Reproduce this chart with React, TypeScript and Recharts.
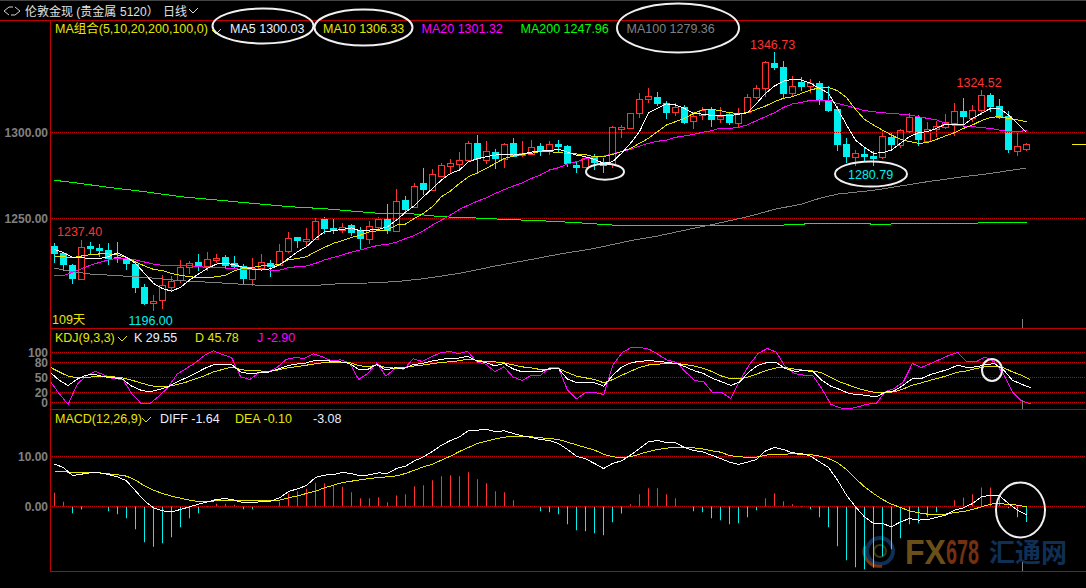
import React from "react";
import { ComposedChart, Bar, Line, XAxis, YAxis, ReferenceLine, Cell } from "recharts";

const opens = [1234.0,1229.7,1223.0,1214.6,1234.0,1232.8,1231.7,1227.8,1226.8,1223.5,1210.0,1200.7,1202.6,1210.4,1214.2,1222.0,1224.7,1222.4,1225.9,1227.6,1223.9,1222.6,1214.6,1221.2,1223.9,1222.8,1231.3,1239.2,1237.1,1237.9,1249.7,1244.3,1243.3,1246.0,1242.9,1238.3,1244.9,1249.5,1242.9,1260.8,1256.9,1270.6,1266.6,1274.9,1280.3,1281.9,1284.2,1293.7,1284.2,1288.5,1284.8,1293.7,1287.1,1287.5,1292.1,1289.6,1293.3,1292.1,1281.1,1279.7,1285.9,1283.0,1281.7,1302.2,1302.8,1311.5,1319.7,1320.4,1316.9,1311.7,1314.6,1306.5,1310.2,1313.5,1307.6,1310.6,1305.7,1311.9,1320.8,1325.7,1340.4,1338.1,1323.1,1329.2,1327.2,1328.8,1318.9,1313.6,1293.3,1285.9,1287.5,1286.5,1285.7,1297.4,1292.7,1301.0,1309.2,1295.2,1301.8,1303.0,1305.5,1312.5,1308.2,1313.1,1321.8,1315.4,1309.6,1289.4,1290.6];
const closes = [1229.4,1223.0,1214.6,1233.2,1232.1,1231.3,1226.6,1226.2,1223.5,1209.8,1200.3,1202.2,1211.1,1213.5,1221.6,1223.9,1221.6,1226.2,1227.0,1222.6,1221.6,1215.0,1221.2,1224.5,1221.6,1230.9,1238.5,1237.1,1237.9,1248.4,1244.1,1242.7,1245.3,1241.8,1238.1,1245.8,1249.5,1242.9,1260.0,1254.9,1268.7,1266.6,1275.7,1280.9,1282.1,1283.8,1293.7,1284.4,1289.0,1284.6,1293.1,1285.9,1287.9,1291.4,1288.5,1293.1,1291.4,1281.7,1279.5,1285.0,1282.1,1280.7,1303.0,1303.0,1311.1,1319.3,1321.0,1316.6,1311.5,1314.6,1305.7,1309.6,1313.1,1307.5,1309.8,1305.5,1311.5,1320.4,1325.7,1340.8,1337.3,1322.4,1327.2,1326.4,1328.6,1318.9,1312.5,1292.7,1285.7,1287.9,1285.7,1284.4,1297.8,1292.7,1301.3,1308.8,1295.6,1301.8,1303.6,1306.3,1312.3,1309.0,1312.9,1321.6,1314.6,1308.6,1289.8,1291.9,1293.1];
const highs = [1235.6,1230.1,1223.5,1237.4,1236.5,1235.0,1235.6,1236.1,1227.8,1224.9,1211.9,1205.5,1217.0,1216.6,1225.9,1225.3,1229.4,1230.5,1229.4,1228.8,1228.2,1223.3,1227.0,1229.4,1225.9,1235.2,1242.1,1239.2,1244.5,1250.1,1250.7,1249.9,1247.2,1246.8,1245.2,1248.7,1251.0,1258.4,1266.9,1263.1,1270.8,1279.4,1278.8,1282.1,1284.4,1288.6,1295.2,1298.5,1295.0,1290.2,1293.7,1296.8,1295.0,1295.6,1293.7,1295.0,1295.6,1292.7,1283.0,1285.9,1287.5,1285.0,1303.8,1304.4,1311.5,1322.8,1325.7,1323.5,1318.5,1316.9,1316.0,1312.1,1315.0,1314.6,1314.6,1311.7,1314.4,1322.4,1327.6,1341.6,1346.73,1341.6,1332.8,1332.1,1330.9,1329.7,1327.0,1315.4,1296.8,1289.6,1291.0,1289.4,1300.9,1299.9,1302.0,1311.5,1310.0,1306.3,1306.7,1310.6,1316.9,1320.0,1315.8,1324.52,1323.1,1319.5,1312.5,1299.9,1294.1];
const lows = [1224.3,1219.7,1211.9,1214.6,1229.4,1227.4,1223.0,1223.9,1220.0,1206.5,1199.7,1196.0,1197.2,1208.0,1212.7,1217.7,1219.7,1219.7,1223.9,1220.4,1221.0,1211.9,1210.9,1220.8,1216.2,1222.4,1230.1,1232.6,1234.0,1237.5,1241.0,1240.8,1241.8,1239.8,1232.1,1235.2,1242.9,1241.0,1242.3,1253.0,1256.5,1263.6,1266.6,1273.9,1276.3,1277.8,1284.0,1275.9,1281.5,1278.6,1279.5,1285.5,1285.9,1286.9,1286.3,1287.1,1288.3,1280.1,1276.4,1279.5,1278.2,1276.4,1279.2,1297.0,1302.2,1308.2,1316.9,1315.4,1308.0,1309.8,1304.9,1302.0,1307.3,1303.0,1305.7,1304.4,1302.4,1311.1,1319.3,1320.8,1336.3,1319.7,1320.8,1324.3,1323.1,1316.0,1312.1,1289.4,1282.5,1280.7,1283.2,1280.79,1284.6,1290.6,1291.2,1299.5,1292.3,1293.7,1297.4,1301.8,1298.2,1303.0,1305.9,1310.2,1311.9,1307.6,1287.9,1286.5,1289.4];

const ma5 = [1232.1,1230.1,1227.4,1227.2,1226.8,1226.8,1227.8,1230.1,1227.4,1223.9,1218.1,1212.3,1209.2,1207.8,1210.0,1214.2,1217.7,1221.0,1223.5,1224.1,1223.0,1221.6,1220.6,1220.0,1220.8,1223.0,1226.8,1230.7,1233.6,1238.4,1242.3,1242.9,1243.7,1244.5,1242.7,1243.3,1243.7,1245.2,1249.1,1253.6,1257.5,1262.7,1267.5,1272.4,1276.2,1278.2,1283.0,1284.8,1285.9,1286.9,1287.3,1286.9,1287.5,1288.6,1289.2,1289.4,1290.2,1288.6,1286.9,1285.9,1284.4,1282.1,1283.0,1287.9,1293.7,1300.5,1311.5,1314.0,1316.6,1316.0,1314.0,1311.1,1310.7,1310.0,1309.8,1309.8,1310.6,1311.5,1316.9,1322.8,1327.0,1329.9,1330.9,1330.5,1328.6,1325.7,1322.8,1314.0,1304.4,1295.6,1291.4,1287.9,1288.3,1289.8,1293.7,1297.6,1299.9,1300.5,1302.4,1304.9,1304.9,1304.4,1308.2,1311.1,1314.0,1314.0,1310.2,1305.3,1300.03];
const ma10 = [1228.2,1227.8,1227.2,1228.2,1229.0,1229.4,1229.4,1228.8,1227.4,1224.9,1222.4,1220.4,1219.7,1218.1,1216.9,1216.2,1215.6,1215.4,1216.2,1216.9,1219.7,1221.0,1221.6,1222.4,1222.6,1223.3,1225.9,1226.8,1227.8,1230.7,1233.2,1235.6,1237.1,1239.0,1240.4,1242.3,1242.9,1243.3,1246.2,1246.8,1250.1,1253.0,1256.9,1262.7,1266.0,1270.4,1274.3,1276.6,1279.2,1282.1,1285.0,1286.3,1287.3,1287.9,1288.9,1288.9,1288.3,1287.9,1287.5,1287.1,1285.9,1285.9,1287.3,1288.9,1290.8,1293.7,1296.6,1300.5,1304.4,1306.3,1308.2,1311.1,1313.1,1313.5,1312.7,1311.5,1311.1,1311.5,1313.5,1315.4,1317.9,1319.9,1320.8,1322.8,1324.7,1326.0,1326.2,1324.3,1320.4,1313.5,1307.6,1304.4,1301.4,1298.5,1296.0,1294.7,1293.7,1294.1,1296.0,1298.0,1299.9,1302.4,1304.4,1306.9,1308.8,1309.2,1308.2,1307.3,1306.33];
const ma20 = [1216.6,1216.9,1218.7,1220.8,1222.8,1224.5,1225.9,1227.0,1226.8,1225.9,1224.7,1223.5,1222.8,1222.6,1222.6,1222.6,1222.0,1221.6,1221.4,1221.2,1220.8,1220.4,1220.4,1220.4,1220.0,1219.9,1221.4,1222.0,1222.4,1223.9,1225.9,1227.4,1228.8,1230.5,1231.7,1233.2,1234.4,1235.0,1236.3,1238.3,1240.2,1242.9,1246.2,1249.1,1252.0,1255.3,1257.8,1260.1,1262.1,1264.6,1266.9,1268.9,1270.8,1273.3,1275.3,1278.2,1279.5,1281.7,1283.0,1284.8,1285.6,1286.3,1287.5,1288.9,1290.2,1292.1,1293.7,1294.9,1295.6,1297.2,1298.0,1298.9,1300.1,1301.0,1302.6,1302.4,1303.0,1304.5,1306.9,1309.2,1311.5,1314.6,1316.6,1317.5,1318.7,1318.9,1318.7,1316.9,1315.6,1314.2,1312.7,1312.1,1311.5,1311.1,1310.7,1310.2,1309.2,1308.2,1307.3,1305.3,1304.0,1303.8,1303.4,1302.8,1302.4,1301.4,1300.5,1300.3,1301.32];
const ma100Days = [0,2,4,6,10,14,16,18,21,23,29,31,34,38,41,45,49,53,56,60,64,67,71,73,77,80,83,85,87,91,94,97,101,104,106,108];
const ma100 = [1221.2,1219.1,1217.7,1217.1,1215.8,1213.8,1213.3,1212.7,1211.7,1211.1,1211.1,1211.9,1212.3,1213.3,1215.0,1218.1,1222.4,1226.2,1229.2,1232.6,1237.1,1239.8,1244.3,1246.4,1251.0,1255.3,1258.4,1261.7,1264.2,1266.4,1268.9,1271.4,1274.3,1276.2,1277.8,1279.36];
const ma200Days = [0,2,6,10,14,18,22,26,30,34,36,40,43,46,50,54,58,62,66,74,80,81,83,84,90,91,95,103,104,108];
const ma200 = [1272.2,1271.0,1268.1,1265.6,1262.7,1260.8,1258.8,1256.9,1255.7,1253.9,1253.0,1252.6,1251.0,1250.5,1249.5,1248.7,1247.6,1246.2,1245.8,1245.8,1246.0,1246.2,1246.6,1247.2,1247.2,1246.6,1247.0,1247.4,1247.8,1247.96];
const lastCloseDays = [113,114,115];
const lastClose = 1293.1;

const kValues = [60.7,44.7,34,46.7,54.7,56,51.3,49.3,46.7,32.7,24.7,21.3,26,31.3,41.3,49.3,58,68,75.3,76,76,61.3,57.3,59.3,60,66,72.7,76.7,78,83.3,84,82.7,81.3,78,66,66,76,64.7,69.3,68,76,78,82.7,86,88.7,88.7,92.7,83.3,80,73.3,78,67.3,61.3,61.3,61.3,68,68,46.7,40,39.3,39.3,32.7,54.7,71.3,79.3,82.7,83.3,82.7,80,78,71.3,63.3,58,48,41.3,34,41.3,61.3,74.7,80,80,68,62.7,63.3,62.7,44.7,32.7,26,18,16,14,11.3,20.7,23.3,34.7,48,48,56,61.3,66.7,74.7,70,71.3,75.3,78,66,44.7,36.7,29.55];
const dValues = [70.7,61.3,52.7,49.3,50,52,51.3,51.3,49.3,44.7,39.3,34,31.3,32,36,40.7,47.3,53.3,61.3,66,70.7,66,63.3,63.3,62,64.7,68.7,71.3,74,76.7,79.3,80,80.7,80,74,71.3,75.3,70,68.7,70,72.7,74.7,77.3,80,81.3,83.3,86.7,84.7,82,81.3,79.3,75.3,71.3,69.3,66,66.7,68,60,52.7,49.3,46,39.3,46,54.7,62.7,70.7,75.3,76.7,78,78,76,72.7,68,61.3,52.7,47.3,47.3,51.3,58,64.7,69.3,70,66.7,64.7,63.3,59.3,50,41.3,34.7,28,23.3,20,20,21.3,27.3,34.7,39.3,44.7,49.3,54.7,60.7,63.3,68,71.3,72.7,70,61.3,54.7,45.78];
const jValues = [42.7,18,-4,36.7,53.3,62,54.7,47.3,46.7,18,-1.3,-2,12.7,30,56.7,68,79.3,94,103.3,96,90,51.3,46,59.3,60.7,70,86,90,88,97.3,91.3,83.3,85.3,79.3,46,58,79.3,52.7,68,66.7,87.3,82,91.3,99.3,102,98,102,81.3,76.7,62,71.3,51.3,44,54,54,69.3,69.3,24.7,7.3,20,20,16,74.7,99.3,110,110,106.7,96,84.7,80,61.3,44,41.3,20,20,8,44.7,74.7,98,108,100.7,71.3,58,54.7,54.7,28,-3.3,-10.7,-12.7,-8.7,-3.3,-2,21.3,28,41.3,78,70,78,86,94,100,81.3,81.3,91.3,81.3,58,21.3,3.3,-2.9];

const diffValues = [8.47,7.8,6.2,6.47,6.73,6.73,6.4,5.93,5.13,3.13,1.13,-0.27,-0.87,-1.07,-0.6,-0.07,0.47,0.93,1.4,1.6,1.27,0.73,0.73,1,1.07,1.73,3,3.53,4.2,5.8,6.27,6.4,6.8,6.6,6.13,6.33,6.73,6.6,7.6,8.07,9.13,9.93,11,12.27,13.2,13.93,15.2,15.27,15.4,15,15.13,14.6,14.13,13.8,13.4,13.2,12.6,11.4,10.07,9.53,8.6,7.6,8.6,9.13,10.27,11.6,12.93,13.2,12.8,12.73,11.8,11.2,10.93,10.27,9.6,8.87,8.4,8.87,9.4,11.13,11.8,11.4,10.73,10.6,10.07,8.93,7.8,5.27,2.27,-0.07,-2.07,-3.4,-3.4,-4.07,-3.07,-2.4,-2.73,-2.6,-2.2,-1.73,-0.73,-0.27,0.6,1.93,2.27,2.13,0.6,-0.73,-1.64];
const deaValues = [7,7,6.73,6.8,6.8,6.73,6.53,6.33,6.07,5.27,4.13,3.27,2.6,2.07,1.67,1.27,1,1,1.13,1.2,1.2,1.13,1.13,1.13,1.13,1.27,1.73,2.13,2.6,3.07,3.73,4.27,4.8,5.07,5.33,5.6,5.8,5.93,6.13,6.6,7.27,7.93,8.47,9.27,10.07,11,11.8,12.6,13.07,13.53,13.87,14.07,14.07,13.93,13.73,13.6,13.4,12.87,12.33,11.8,11.27,10.47,9.93,9.8,9.93,10.47,11,11.4,11.67,11.8,11.8,11.73,11.53,11.13,10.87,10.2,9.93,9.87,9.87,10.27,10.47,10.47,10.53,10.47,10.4,10.07,9.6,8.73,7.4,5.6,3.93,2.6,1.4,0.47,-0.2,-0.87,-1.27,-1.53,-1.6,-1.53,-1.2,-1,-0.6,-0.07,0.47,0.6,0.4,0.27,-0.1];
const macdHist = [2.73,0.93,-1.33,-0.6,-0.07,-0.07,-0.93,-1.53,-2.33,-4.53,-7.13,-8.07,-7.33,-6.13,-4.13,-2.33,-1.33,-0.13,0.53,0.53,0.33,-0.53,-0.53,0,0,0.93,2.6,3.07,3.53,4.73,4.67,4.27,3.93,2.87,1.67,1.67,1.87,0.87,2.2,2.47,4.07,4.27,5.27,6.07,6.27,6.07,6.87,5.47,4.67,3.07,2.87,1.27,0.07,-0.07,-0.93,-1.13,-1.53,-3.53,-4.73,-4.93,-5.33,-5.73,-3.13,-1.4,0.47,2.47,3.67,3.67,2.47,1.67,0,-0.93,-1.13,-2.33,-2.73,-3.53,-3.33,-2.13,-0.73,1.67,2.67,1.07,0.47,-0.13,-0.53,-2.13,-4.13,-7.93,-10.73,-12.13,-12.53,-12.27,-9.93,-8.53,-6.33,-3.53,-3.33,-2.13,-1.13,-0.07,1.27,1.8,2.47,3.8,3.8,1.93,-0.33,-2.13,-3.08];

const monthTickDays = [1, 23, 43, 65, 85, 106];
const monthLabels = ["2018/11", "2018/12", "2019/01", "2019/02", "2019/03", "2019/04"];
const priceTicks = [1300, 1250];
const kdjTicks = [100, 80, 50, 20, 0];
const macdTicks = [10, 0];
const DAY_SLOTS = 116;

const table = Array.from({ length: DAY_SLOTS }, (_, i) => {
  const has = i < opens.length;
  const p100 = ma100Days.indexOf(i);
  const p200 = ma200Days.indexOf(i);
  return {
    day: i,
    open: has ? opens[i] : null,
    close: has ? closes[i] : null,
    high: has ? highs[i] : null,
    low: has ? lows[i] : null,
    range: has ? [lows[i], highs[i]] : null,
    ma5: has ? ma5[i] : null,
    ma10: has ? ma10[i] : null,
    ma20: has ? ma20[i] : null,
    ma100: p100 >= 0 ? ma100[p100] : null,
    ma200: p200 >= 0 ? ma200[p200] : null,
    last: lastCloseDays.includes(i) ? lastClose : null,
    k: has ? kValues[i] : null,
    d: has ? dValues[i] : null,
    j: has ? jValues[i] : null,
    diff: has ? diffValues[i] : null,
    dea: has ? deaValues[i] : null,
    hist: has ? macdHist[i] : null,
  };
});

const RED = "#ff3232";
const CYAN = "#00f0f0";
const FRAME = "#c00000";
const GRID = "#cc0000";
const YELLOW = "#e6e600";
const MAGENTA = "#ff00ff";
const GREY = "#808080";
const SANS = '"Liberation Sans","Noto Sans CJK SC",sans-serif';
const tickStyle = { fill: GREY, fontSize: 12, fontWeight: 700, fontFamily: SANS };

const Candle = (p: any) => {
  const { x, y, width, height, payload } = p;
  if (payload.high == null) return null;
  const k = Math.abs(height) / (payload.high - payload.low);
  const py = (v: number) => Math.round(y + (payload.high - v) * k);
  const up = payload.close >= payload.open;
  const color = up ? RED : CYAN;
  const cx = x + width / 2;
  const top = py(Math.max(payload.open, payload.close));
  const bot = py(Math.min(payload.open, payload.close));
  return (
    <g shapeRendering="crispEdges">
      <line x1={cx} x2={cx} y1={py(payload.high)} y2={top} stroke={color} />
      <line x1={cx} x2={cx} y1={bot} y2={py(payload.low)} stroke={color} />
      {up ? (
        <rect x={cx - 3} y={top + 0.5} width={6} height={Math.max(bot - top, 1)} fill="#000" stroke={color} />
      ) : (
        <rect x={cx - 3.5} y={top} width={7} height={Math.max(bot - top, 1)} fill={color} />
      )}
    </g>
  );
};

const line = (key: string, color: string, connect = false) => (
  <Line
    key={key}
    dataKey={key}
    type="linear"
    stroke={color}
    strokeWidth={1}
    dot={false}
    activeDot={false}
    connectNulls={connect}
    isAnimationActive={false}
    shapeRendering="crispEdges"
  />
);

const grid = (ticks: number[]) =>
  ticks.map((t) => <ReferenceLine key={t} y={t} stroke={GRID} strokeDasharray="1 1" shapeRendering="crispEdges" />);

const MonthTick = (p: any) => (
  <text x={p.x - 1.5} y={584} fill={GREY} fontSize={13} fontFamily={SANS}>
    {monthLabels[monthTickDays.indexOf(p.payload.value)]}
  </text>
);

const Label = ({ x, y, c, children, size = 12.5 }: any) => (
  <text x={x} y={y} fill={c} fontSize={size} fontFamily={SANS}>
    {children}
  </text>
);

const Chev = ({ x, y, c = YELLOW }: any) => (
  <polyline points={`${x},${y} ${x + 4},${y + 4} ${x + 9},${y - 1}`} fill="none" stroke={c} strokeWidth={1} />
);

const WM = '"Liberation Sans Narrow","Liberation Sans",sans-serif';

export default function App() {
  const panel = (top: number, height: number): React.CSSProperties => ({ position: "absolute", left: 0, top, width: 1094, height });
  const margin = { top: 0, right: 0, bottom: 0, left: 0 };
  return (
    <div style={{ position: "absolute", left: 0, top: 0, width: 1086, height: 588, background: "#000", overflow: "hidden" }}>
      <svg width={1086} height={588} style={{ position: "absolute", left: 0, top: 0, pointerEvents: "none" }}>
        <circle cx={880} cy={551} r={13} fill="none" stroke="#0f2f55" strokeWidth={4} />
        <circle cx={880} cy={551} r={6} fill="none" stroke="#3a3a10" strokeWidth={2} />
        <path d="M865 546 A15 15 0 0 0 882 566" fill="none" stroke="#7a3510" strokeWidth={3} />
        <text x={905} y={564} fontSize={35} fontWeight={700} fontFamily={WM} fill="#6a5018" textLength={41} lengthAdjust="spacingAndGlyphs">FX</text>
        <text x={946} y={564} fontSize={35} fontWeight={700} fontFamily={WM} fill="#74300f" textLength={33} lengthAdjust="spacingAndGlyphs">678</text>
        <text x={989} y={562} fontSize={26} fontWeight={700} fontFamily={SANS} fill="#0f2f55">汇通网</text>
      </svg>

      <div style={panel(21, 307)}>
        <ComposedChart width={1094} height={307} data={table} margin={margin}>
          <XAxis dataKey="day" type="category" hide />
          <YAxis type="number" width={50} domain={[1186.337, 1364.826]} allowDataOverflow ticks={priceTicks} interval={0} tickFormatter={(v: number) => v.toFixed(2)} tick={tickStyle} axisLine={false} tickLine={false} tickSize={0} tickMargin={2} />
          {grid(priceTicks)}
          <Bar dataKey="range" barSize={7} shape={Candle} isAnimationActive={false} />
          {line("ma200", "#00ff00", true)}
          {line("ma100", GREY, true)}
          {line("ma20", MAGENTA)}
          {line("ma10", YELLOW)}
          {line("ma5", "#ffffff")}
          {line("last", "#f0f000")}
        </ComposedChart>
      </div>
      <div style={panel(329, 80)}>
        <ComposedChart width={1094} height={80} data={table} margin={margin}>
          <XAxis dataKey="day" type="category" hide />
          <YAxis type="number" width={50} domain={[-13, 147]} allowDataOverflow ticks={kdjTicks} interval={0} tick={tickStyle} axisLine={false} tickLine={false} tickSize={0} tickMargin={2} />
          {grid(kdjTicks)}
          {line("j", MAGENTA)}
          {line("d", YELLOW)}
          {line("k", "#ffffff")}
        </ComposedChart>
      </div>
      <div style={panel(410, 178)}>
        <ComposedChart width={1094} height={178} data={table} margin={margin}>
          <XAxis dataKey="day" type="category" height={17} ticks={monthTickDays} interval={0} tick={MonthTick} axisLine={false} tickLine={false} />
          <YAxis type="number" width={50} domain={[-12.9, 19.3]} allowDataOverflow ticks={macdTicks} interval={0} tickFormatter={(v: number) => v.toFixed(2)} tick={tickStyle} axisLine={false} tickLine={false} tickSize={0} tickMargin={2} />
          {grid(macdTicks)}
          <Bar dataKey="hist" barSize={1} isAnimationActive={false}>
            {table.map((r) => (
              <Cell key={r.day} fill={(r.hist ?? 0) >= 0 ? RED : CYAN} />
            ))}
          </Bar>
          {line("dea", YELLOW)}
          {line("diff", "#ffffff")}
        </ComposedChart>
      </div>

      <svg width={1086} height={588} style={{ position: "absolute", left: 0, top: 0, pointerEvents: "none" }}>
        <g shapeRendering="crispEdges" stroke={FRAME}>
          <line x1={0} x2={1086} y1={0.5} y2={0.5} stroke="#444" />
          <line x1={0} x2={1086} y1={20.5} y2={20.5} />
          <line x1={50.5} x2={50.5} y1={20} y2={572} />
          <line x1={50} x2={1086} y1={328.5} y2={328.5} />
          <line x1={50} x2={1086} y1={409.5} y2={409.5} />
          <line x1={50} x2={1086} y1={571.5} y2={571.5} />
          <line x1={1022.5} x2={1022.5} y1={319} y2={328} stroke={GREY} />
          <line x1={1022.5} x2={1022.5} y1={400} y2={409} stroke={GREY} />
          <line x1={1022.5} x2={1022.5} y1={562} y2={571} stroke={GREY} />
        </g>

        <text x={25} y={16} fill="#e0e0e0" fontSize={12} fontFamily={SANS}>伦敦金现 (贵金属</text>
        <text x={120} y={16} fill="#e0e0e0" fontSize={12} fontFamily={SANS}>5120）</text>
        <text x={163} y={16} fill="#e0e0e0" fontSize={12} fontFamily={SANS}>日线</text>
        <Chev x={189} y={9} c="#e0e0e0" />
        <path d="M4 11 L9 7 H13 M20 11 L15 15 H11 M4 11 L9 15 M20 11 L15 7" fill="none" stroke="#d0d0d0" />

        <Label x={55} y={33} c={YELLOW}>MA组合(5,10,20,200,100,0)</Label>
        <Chev x={212} y={30} />
        <Label x={230} y={33} c="#e8f0ff">MA5 1300.03</Label>
        <Label x={323} y={33} c={YELLOW}>MA10 1306.33</Label>
        <Label x={421.5} y={33} c={MAGENTA}>MA20 1301.32</Label>
        <Label x={520.5} y={33} c="#00ff00">MA200 1247.96</Label>
        <Label x={626.5} y={33} c={GREY}>MA100 1279.36</Label>

        <Label x={57} y={236} c={RED}>1237.40</Label>
        <Label x={128.5} y={325} c={CYAN}>1196.00</Label>
        <Label x={52} y={324} c={YELLOW}>109天</Label>
        <Label x={750} y={49} c={RED}>1346.73</Label>
        <Label x={848} y={179} c={CYAN}>1280.79</Label>
        <Label x={956.5} y={87} c={RED}>1324.52</Label>

        <Label x={55} y={342} c={YELLOW}>KDJ(9,3,3)</Label>
        <Chev x={118} y={337} />
        <Label x={134} y={342} c="#e8f0ff">K 29.55</Label>
        <Label x={195} y={342} c={YELLOW}>D 45.78</Label>
        <Label x={257} y={342} c={MAGENTA}>J -2.90</Label>

        <Label x={55} y={423} c={YELLOW}>MACD(12,26,9)</Label>
        <Chev x={142} y={418} />
        <Label x={160} y={423} c="#e8f0ff">DIFF -1.64</Label>
        <Label x={235} y={423} c={YELLOW}>DEA -0.10</Label>
        <Label x={313} y={423} c="#e8f0ff">-3.08</Label>

        <g fill="none" stroke="#f0f0f0" strokeWidth={2}>
          <ellipse cx={263} cy={26} rx={50.5} ry={17.5} />
          <ellipse cx={363.5} cy={27.5} rx={49} ry={18} />
          <ellipse cx={678} cy={28} rx={61} ry={24.5} />
          <ellipse cx={605} cy={171.7} rx={19} ry={8} />
          <ellipse cx={871} cy={174} rx={36} ry={12.5} />
          <ellipse cx={992} cy={370} rx={10} ry={11} />
          <ellipse cx={1020.5} cy={510} rx={24.5} ry={27.5} />
        </g>
      </svg>
    </div>
  );
}
